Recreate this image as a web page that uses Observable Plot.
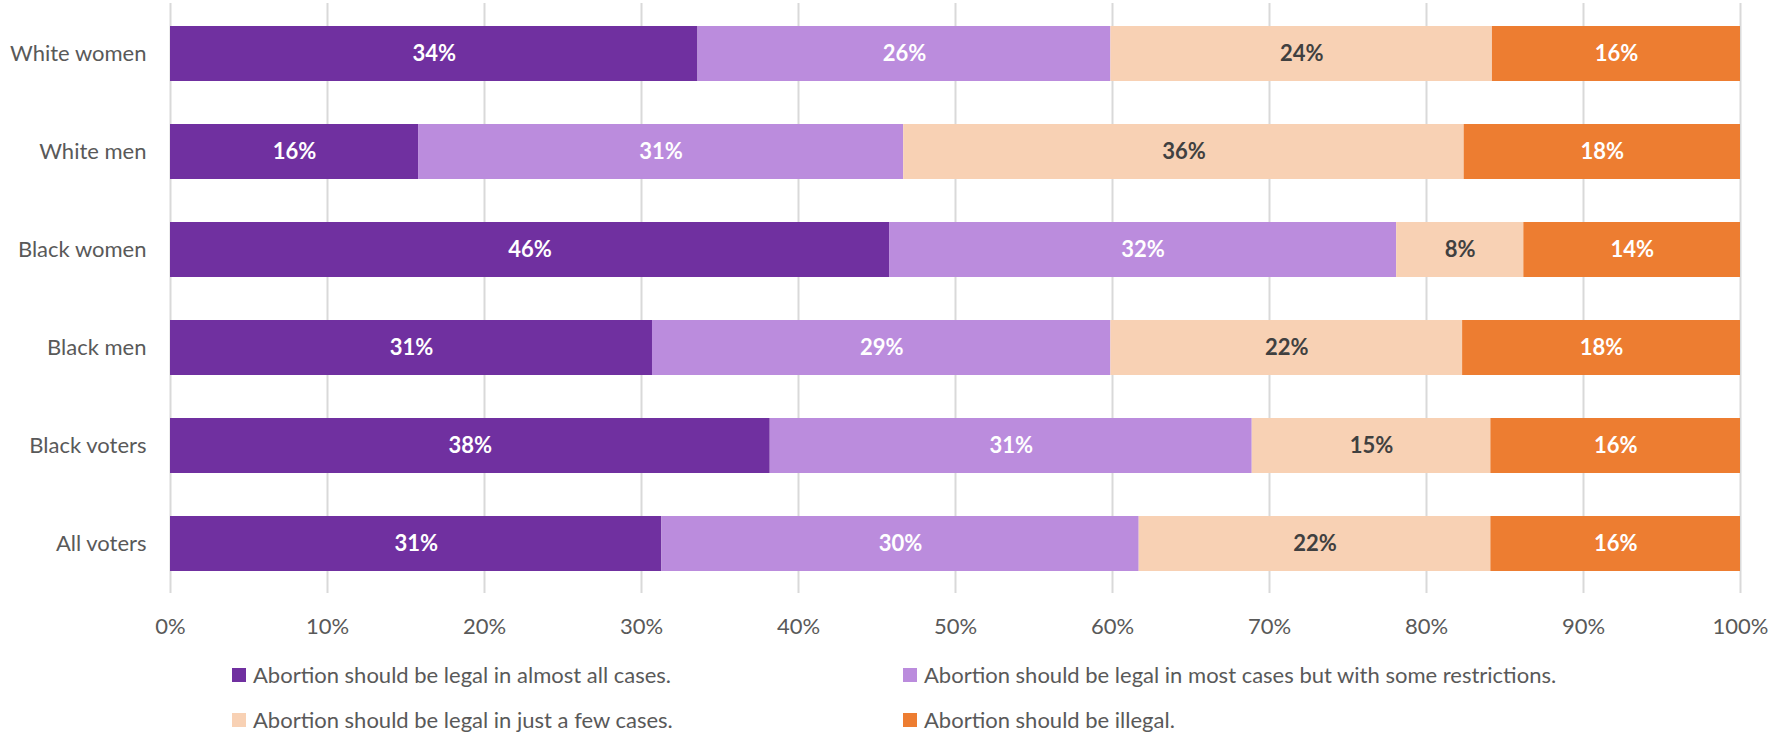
<!DOCTYPE html>
<html>
<head>
<meta charset="utf-8">
<script src="https://cdn.jsdelivr.net/npm/d3@7"></script>
<script src="https://cdn.jsdelivr.net/npm/@observablehq/plot@0.6"></script>
<style>
  body { margin: 0; background: #fff; font-family: Lato, "Open Sans", sans-serif; }
  #legend { margin-top: 7px; padding-left: 232px; display: grid; grid-template-columns: 671px 800px; }
  .item { height: 45px; display: flex; align-items: center; font-size: 22px; color: #595959; }
  .sw { width: 14px; height: 14px; margin-right: 7px; flex: none; }
</style>
</head>
<body>
<div id="chart"></div>
<div id="legend"></div>
<script>
const groups = ["White women", "White men", "Black women", "Black men", "Black voters", "All voters"];
const categories = [
  "Abortion should be legal in almost all cases.",
  "Abortion should be legal in most cases but with some restrictions.",
  "Abortion should be legal in just a few cases.",
  "Abortion should be illegal."
];
const colors = ["#7030A0", "#BB8CDD", "#F8D1B4", "#ED7D31"];
const labelColors = ["#FFFFFF", "#FFFFFF", "#404040", "#FFFFFF"];
// values per group, in category order (percent)
const almostAll  = [33.6, 15.8, 45.8, 30.7, 38.2, 31.3];
const mostCases  = [26.3, 30.9, 32.3, 29.2, 30.7, 30.4];
const fewCases   = [24.3, 35.7,  8.1, 22.4, 15.2, 22.4];
const illegal    = [15.8, 17.6, 13.8, 17.7, 15.9, 15.9];
const xTicks = [0, 10, 20, 30, 40, 50, 60, 70, 80, 90, 100];

const series = [almostAll, mostCases, fewCases, illegal];
const data = [];
groups.forEach((g, gi) => {
  series.forEach((s, ci) => {
    data.push({group: g, cat: categories[ci], ci, value: s[gi]});
  });
});

const chart = Plot.plot({
  width: 1770,
  height: 645,
  marginLeft: 170,
  marginRight: 30,
  marginTop: 3,
  marginBottom: 52,
  style: {fontFamily: "Lato, 'Open Sans', sans-serif", background: "#fff"},
  x: {domain: [0, 100], ticks: xTicks, label: null},
  y: {domain: groups, paddingInner: 0.44, paddingOuter: 0.22, label: null},
  color: {domain: categories, range: colors},
  marks: [
    Plot.gridX(xTicks, {stroke: "#D9D9D9", strokeOpacity: 1, strokeWidth: 2}),
    Plot.barX(data, Plot.stackX({x: "value", y: "group", fill: "cat", order: "ci"})),
    Plot.text(data, Plot.stackX({
      x: "value", y: "group", z: "cat", order: "ci",
      text: d => Math.round(d.value) + "%",
      fill: d => labelColors[d.ci],
      fontSize: 22, fontWeight: "bold"
    })),
    Plot.axisX({ticks: xTicks, tickSize: 0, tickPadding: 25, tickFormat: d => d + "%", fontSize: 22, color: "#595959", label: null}),
    Plot.axisY({tickSize: 0, tickPadding: 24, fontSize: 22, color: "#595959", label: null})
  ]
});
document.getElementById("chart").appendChild(chart);

const legend = document.getElementById("legend");
[0, 1, 2, 3].forEach(i => {
  const it = document.createElement("div");
  it.className = "item";
  const sw = document.createElement("span");
  sw.className = "sw";
  sw.style.background = colors[i];
  const tx = document.createElement("span");
  tx.textContent = categories[i];
  it.appendChild(sw);
  it.appendChild(tx);
  legend.appendChild(it);
});
</script>
</body>
</html>
